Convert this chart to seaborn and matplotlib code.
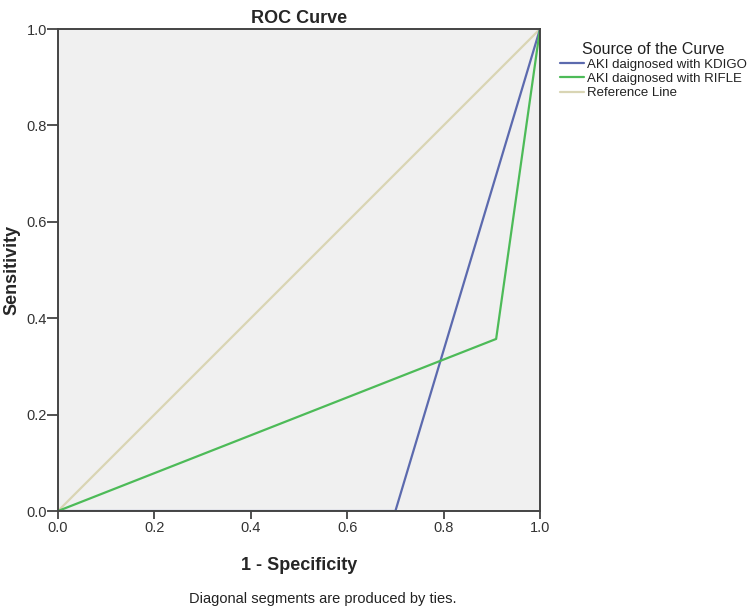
import matplotlib
matplotlib.use("Agg")
import matplotlib.pyplot as plt
import seaborn as sns
import pandas as pd

sns.set_theme(style="white")
plt.rcParams['font.family'] = ['Liberation Sans', 'DejaVu Sans']

kdigo_x = [0.0, 0.70, 1.0]
kdigo_y = [0.0, 0.0, 1.0]
rifle_x = [0.0, 0.909, 1.0]
rifle_y = [0.0, 0.357, 1.0]
ref_x = [0.0, 1.0]
ref_y = [0.0, 1.0]
series_names = ["AKI daignosed with KDIGO", "AKI daignosed with RIFLE", "Reference Line"]
colors = ["#5c6aae", "#4dbb58", "#d9d5b4"]
ticks = [0.0, 0.2, 0.4, 0.6, 0.8, 1.0]

df = pd.concat([
    pd.DataFrame({"x": kdigo_x, "y": kdigo_y, "s": series_names[0]}),
    pd.DataFrame({"x": rifle_x, "y": rifle_y, "s": series_names[1]}),
    pd.DataFrame({"x": ref_x, "y": ref_y, "s": series_names[2]}),
], ignore_index=True)

fig = plt.figure(figsize=(7.5, 6.08), dpi=100)
ax = fig.add_axes([0.0773, 0.1595, 0.6427, 0.7928])
ax.set_facecolor("#f0f0f0")
sns.lineplot(data=df, x="x", y="y", hue="s", hue_order=series_names, sort=False,
             estimator=None, palette=dict(zip(series_names, colors)), linewidth=1.6, ax=ax)
for ln in ax.lines:
    if ln.get_color() == colors[2]:
        ln.set_zorder(1.5)

ax.set_xlim(0, 1)
ax.set_ylim(0, 1)
ax.set_xticks(ticks)
ax.set_yticks(ticks)
ax.set_xticklabels([f"{t:.1f}" for t in ticks], fontsize=10.5, color="#333333")
ax.set_yticklabels([f"{t:.1f}" for t in ticks], fontsize=10.5, color="#333333")
ax.tick_params(axis="x", direction="out", length=6, width=1.2, color="#333333", pad=1, bottom=True)
ax.tick_params(axis="y", direction="out", length=8, width=1.2, color="#333333", pad=0, left=True)
for sp in ax.spines.values():
    sp.set_color("#444444")
    sp.set_linewidth(1.4)
ax.set_xlabel("1 - Specificity", fontsize=13, fontweight="bold", labelpad=16)
ax.set_ylabel("Sensitivity", fontsize=13, fontweight="bold", labelpad=4)
ax.set_title("ROC Curve", fontsize=13, fontweight="bold", pad=4)

handles, labels = ax.get_legend_handles_labels()
leg = ax.legend(handles, labels, title="Source of the Curve", loc="upper left",
                bbox_to_anchor=(1.03, 0.985), frameon=False, fontsize=9.5,
                title_fontsize=11.5, handlelength=1.85, handletextpad=0.2,
                labelspacing=0.15, borderaxespad=0)
leg._legend_box.align = "left"
leg.get_title().set_position((22, 0))
for t in leg.get_texts():
    t.set_color("#222222")
leg.get_title().set_color("#222222")

fig.text(0.43, 0.003, "Diagonal segments are produced by ties.", ha="center", va="bottom",
         fontsize=10.5, color="#222222")

fig.savefig("out.png", dpi=100)
